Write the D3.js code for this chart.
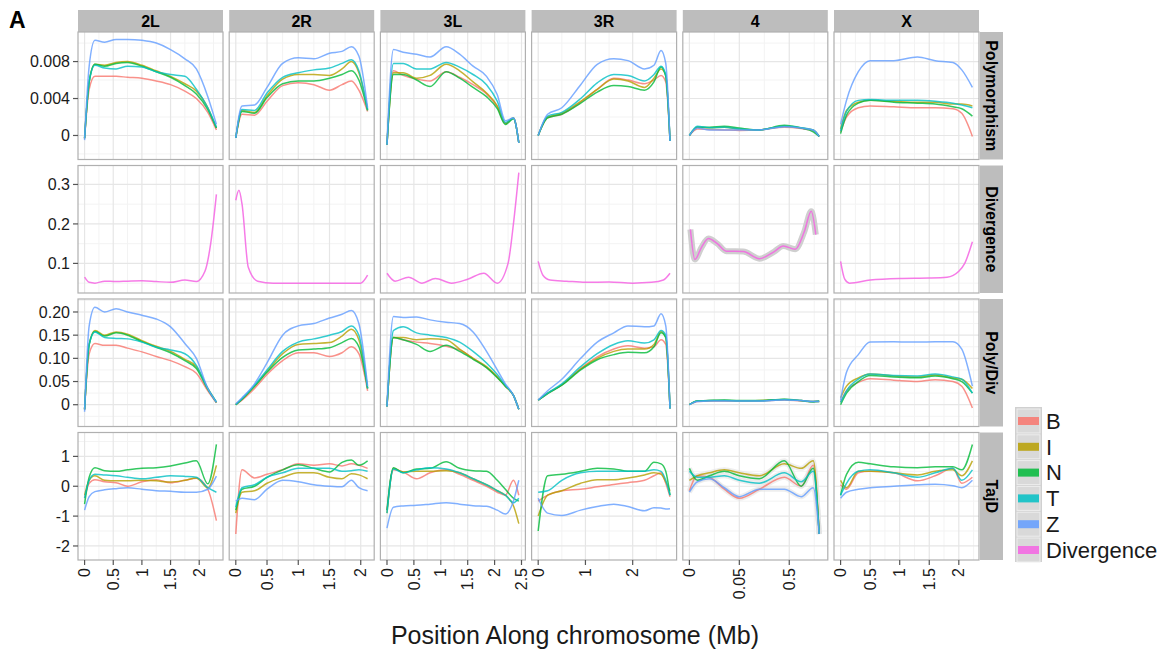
<!DOCTYPE html>
<html>
<head>
<meta charset="utf-8">
<script src="https://cdn.jsdelivr.net/npm/d3@7"></script>
<style>
  body { margin: 0; background: #fff; }
  svg { font-family: "Liberation Sans", Arial, sans-serif; }
</style>
</head>
<body>
<div id="chart"></div>
<script>
///////////////////// Data ////////////////////////
var chroms = ["2L", "2R", "3L", "3R", "4", "X"];
var chromLen = [2.3, 2.11, 2.45, 2.79, 0.132, 2.23];   // 10 Mb units, as in the axis
var pops = ["B", "I", "N", "T", "Z"];
var metrics = ["Polymorphism", "Divergence", "Poly/Div", "TajD"];

var xTicks = [[0, 0.5, 1, 1.5, 2], [0, 0.5, 1, 1.5, 2], [0, 0.5, 1, 1.5, 2, 2.5],
              [0, 1, 2], [0, 0.05, 0.1], [0, 0.5, 1, 1.5, 2]];
var xTickLabels = [["0", "0.5", "1", "1.5", "2"], ["0", "0.5", "1", "1.5", "2"],
                   ["0", "0.5", "1", "1.5", "2", "2.5"], ["0", "1", "2"],
                   ["0", "0.05", "0.5"], ["0", "0.5", "1", "1.5", "2"]];

var yTicks = [[0, 0.004, 0.008], [0.1, 0.2, 0.3], [0, 0.05, 0.10, 0.15, 0.20], [-2, -1, 0, 1]];
var yTickLabels = [["0", "0.004", "0.008"], ["0.1", "0.2", "0.3"],
                   ["0", "0.05", "0.10", "0.15", "0.20"], ["-2", "-1", "0", "1"]];
var yLimits = [[-0.0026, 0.0112], [0.025, 0.348], [-0.047, 0.228], [-2.47, 1.8]];

// --- 2L ---
var pos2L = [0, 0.08, 0.18, 0.35, 0.55, 0.75, 1.0, 1.25, 1.5, 1.75, 1.95, 2.15, 2.3];
var poly2L = {
  B: [-0.0003, 0.005, 0.0064, 0.0064, 0.0064, 0.0063, 0.0062, 0.0059, 0.0055, 0.0048, 0.004, 0.0025, 0.0006],
  I: [-0.0003, 0.0058, 0.0077, 0.0076, 0.0079, 0.008, 0.0076, 0.007, 0.0064, 0.0056, 0.0048, 0.003, 0.0008],
  N: [-0.0003, 0.0058, 0.0077, 0.0075, 0.0078, 0.0079, 0.0075, 0.0069, 0.0063, 0.0054, 0.0045, 0.0028, 0.0008],
  T: [-0.0003, 0.0058, 0.0076, 0.0073, 0.0072, 0.0075, 0.0074, 0.0069, 0.0066, 0.0064, 0.005, 0.003, 0.0009],
  Z: [-0.0005, 0.0075, 0.0103, 0.0101, 0.0104, 0.0104, 0.0103, 0.01, 0.0093, 0.0083, 0.0072, 0.0042, 0.0012]
};
var pd2L = {
  B: [-0.01, 0.11, 0.132, 0.128, 0.128, 0.122, 0.114, 0.104, 0.095, 0.082, 0.068, 0.03, 0.004],
  I: [-0.01, 0.13, 0.16, 0.15, 0.157, 0.152, 0.138, 0.126, 0.115, 0.098, 0.082, 0.035, 0.005],
  N: [-0.01, 0.13, 0.158, 0.148, 0.155, 0.15, 0.136, 0.124, 0.112, 0.095, 0.078, 0.033, 0.005],
  T: [-0.01, 0.13, 0.157, 0.145, 0.143, 0.142, 0.135, 0.124, 0.118, 0.11, 0.085, 0.035, 0.006],
  Z: [-0.015, 0.17, 0.21, 0.2, 0.207, 0.2, 0.193, 0.185, 0.168, 0.132, 0.1, 0.035, 0.005]
};
var tajd2L = {
  B: [-0.4, 0.1, 0.22, 0.15, 0.12, 0.0, 0.15, 0.22, 0.12, 0.2, 0.27, -0.1, -1.15],
  I: [-0.3, 0.2, 0.35, 0.2, 0.18, 0.18, 0.2, 0.18, 0.14, 0.2, 0.28, -0.05, 0.7],
  N: [-0.6, 0.3, 0.62, 0.52, 0.5, 0.55, 0.6, 0.62, 0.68, 0.78, 0.85, 0.08, 1.4],
  T: [-0.4, 0.2, 0.4, 0.38, 0.35, 0.3, 0.25, 0.3, 0.35, 0.33, 0.3, -0.05, -0.2],
  Z: [-0.8, -0.35, -0.18, -0.12, -0.08, -0.05, -0.1, -0.15, -0.17, -0.2, -0.2, -0.1, 0.34]
};
var divPos2L = [0, 0.08, 0.18, 0.35, 0.55, 0.75, 1.0, 1.25, 1.5, 1.75, 1.95, 2.1, 2.2, 2.3];
var div2L = [0.065, 0.052, 0.05, 0.055, 0.054, 0.055, 0.056, 0.054, 0.052, 0.058, 0.054, 0.08, 0.15, 0.275];

// --- 2R ---
var pos2R = [0, 0.1, 0.3, 0.5, 0.75, 1.0, 1.25, 1.5, 1.7, 1.85, 1.97, 2.11];
var poly2R = {
  B: [-0.00025, 0.0023, 0.0022, 0.0037, 0.0054, 0.0057, 0.0055, 0.0049, 0.0055, 0.0059, 0.0049, 0.0026],
  I: [-0.00025, 0.0027, 0.0025, 0.0043, 0.0061, 0.0066, 0.0066, 0.0065, 0.0072, 0.008, 0.0068, 0.0028],
  N: [-0.00025, 0.0026, 0.0024, 0.0041, 0.0056, 0.0059, 0.0059, 0.0062, 0.0066, 0.007, 0.006, 0.0027],
  T: [-0.00025, 0.0028, 0.0027, 0.0046, 0.0063, 0.0068, 0.0071, 0.0073, 0.0078, 0.0082, 0.007, 0.0028],
  Z: [-0.00025, 0.0032, 0.0033, 0.0052, 0.0078, 0.0084, 0.0083, 0.0089, 0.0091, 0.0096, 0.0086, 0.003]
};
var pd2R = {
  B: [0.0, 0.01, 0.035, 0.065, 0.095, 0.112, 0.112, 0.104, 0.112, 0.125, 0.11, 0.03],
  I: [0.0, 0.012, 0.04, 0.072, 0.11, 0.13, 0.132, 0.134, 0.148, 0.163, 0.14, 0.035],
  N: [0.0, 0.012, 0.04, 0.07, 0.102, 0.118, 0.12, 0.123, 0.134, 0.143, 0.125, 0.035],
  T: [0.0, 0.013, 0.042, 0.075, 0.115, 0.135, 0.142, 0.15, 0.158, 0.17, 0.15, 0.035],
  Z: [0.002, 0.015, 0.045, 0.09, 0.15, 0.17, 0.175, 0.187, 0.195, 0.203, 0.175, 0.04]
};
var tajd2R = {
  B: [-1.6, 0.55, 0.28, 0.4, 0.55, 0.75, 0.7, 0.75, 0.68, 0.75, 0.7, 0.6],
  I: [-0.9, -0.2, -0.15, 0.1, 0.3, 0.45, 0.45, 0.3, 0.25, 0.42, 0.38, 0.25],
  N: [-0.8, -0.1, 0.0, 0.3, 0.55, 0.72, 0.6, 0.48, 0.8, 0.88, 0.7, 0.85],
  T: [-0.7, -0.05, 0.05, 0.3, 0.45, 0.6, 0.6, 0.6, 0.5, 0.52, 0.55, 0.5],
  Z: [-0.5, -0.4, -0.45, -0.1, 0.2, 0.15, 0.05, 0.0, -0.02, 0.2, -0.05, -0.15]
};
var divPos2R = [0, 0.05, 0.1, 0.2, 0.35, 0.6, 1.0, 1.4, 1.8, 2.0, 2.11];
var div2R = [0.26, 0.285, 0.25, 0.09, 0.055, 0.05, 0.05, 0.05, 0.05, 0.05, 0.07];

// --- 3L ---
var pos3L = [0, 0.12, 0.3, 0.55, 0.8, 1.1, 1.35, 1.6, 1.85, 2.05, 2.2, 2.35, 2.45];
var poly3L = {
  B: [-0.001, 0.007, 0.0065, 0.0061, 0.0059, 0.0069, 0.0063, 0.0055, 0.0045, 0.0031, 0.0013, 0.0019, -0.0008],
  I: [-0.001, 0.0068, 0.0068, 0.0062, 0.0065, 0.0077, 0.007, 0.0058, 0.0046, 0.0032, 0.0013, 0.0019, -0.0008],
  N: [-0.001, 0.0066, 0.0066, 0.006, 0.0053, 0.0069, 0.0062, 0.0052, 0.0042, 0.0029, 0.0012, 0.0018, -0.0008],
  T: [-0.001, 0.0078, 0.0078, 0.0072, 0.0072, 0.0079, 0.0074, 0.0066, 0.0055, 0.0037, 0.0014, 0.0019, -0.0008],
  Z: [-0.001, 0.0093, 0.009, 0.0088, 0.0085, 0.0096, 0.0088, 0.0075, 0.0064, 0.0044, 0.0016, 0.0019, -0.0008]
};
var pd3L = {
  B: [-0.004, 0.145, 0.14, 0.135, 0.132, 0.126, 0.118, 0.1, 0.08, 0.06, 0.04, 0.02, -0.01],
  I: [-0.004, 0.145, 0.145, 0.14, 0.142, 0.14, 0.12, 0.1, 0.082, 0.06, 0.04, 0.02, -0.01],
  N: [-0.004, 0.145, 0.14, 0.13, 0.115, 0.128, 0.115, 0.098, 0.08, 0.058, 0.04, 0.02, -0.01],
  T: [-0.004, 0.16, 0.168, 0.155, 0.15, 0.145, 0.135, 0.115, 0.09, 0.065, 0.042, 0.02, -0.01],
  Z: [-0.004, 0.19, 0.188, 0.189, 0.183, 0.178, 0.175, 0.157, 0.115, 0.075, 0.045, 0.02, -0.01]
};
var tajd3L = {
  B: [-0.8, 0.55, 0.48, 0.25, 0.45, 0.55, 0.4, 0.2, 0.0, -0.2, -0.3, 0.2, -0.3],
  I: [-0.9, 0.6, 0.48, 0.5, 0.5, 0.52, 0.45, 0.25, 0.05, -0.15, -0.3, -0.65, -1.25],
  N: [-0.8, 0.62, 0.45, 0.58, 0.6, 0.82, 0.6, 0.52, 0.5, 0.2, -0.1, -0.4, -0.5],
  T: [-0.9, 0.58, 0.45, 0.55, 0.62, 0.58, 0.45, 0.25, 0.05, -0.15, -0.3, -0.55, -0.4],
  Z: [-1.4, -0.7, -0.66, -0.64, -0.6, -0.55, -0.6, -0.65, -0.67, -0.8, -0.93, -0.5, 0.2]
};
var divPos3L = [0, 0.15, 0.4, 0.65, 0.9, 1.2, 1.5, 1.8, 2.05, 2.25, 2.35, 2.45];
var div3L = [0.075, 0.055, 0.065, 0.05, 0.062, 0.05, 0.06, 0.075, 0.05, 0.1, 0.2, 0.33];

// --- 3R ---
var pos3R = [0, 0.2, 0.5, 0.9, 1.25, 1.6, 1.9, 2.25, 2.45, 2.6, 2.7, 2.79];
var poly3R = {
  B: [0.0, 0.0019, 0.0023, 0.0036, 0.005, 0.0062, 0.006, 0.0056, 0.006, 0.0065, 0.0058, -0.0006],
  I: [0.0, 0.002, 0.0024, 0.0037, 0.005, 0.0061, 0.0059, 0.0052, 0.0062, 0.0072, 0.0065, -0.0006],
  N: [0.0, 0.0019, 0.0023, 0.0035, 0.0047, 0.0054, 0.0053, 0.0049, 0.0058, 0.0074, 0.0064, -0.0006],
  T: [0.0, 0.0021, 0.0025, 0.004, 0.0057, 0.0066, 0.0065, 0.0059, 0.0066, 0.0075, 0.0066, -0.0006],
  Z: [0.0, 0.0023, 0.003, 0.0055, 0.0077, 0.0083, 0.0081, 0.0072, 0.0076, 0.0092, 0.0078, -0.0006]
};
var pd3R = {
  B: [0.01, 0.024, 0.043, 0.078, 0.103, 0.12, 0.127, 0.122, 0.125, 0.14, 0.13, -0.008],
  I: [0.01, 0.025, 0.043, 0.077, 0.1, 0.115, 0.12, 0.12, 0.13, 0.158, 0.145, -0.008],
  N: [0.01, 0.024, 0.042, 0.075, 0.097, 0.108, 0.113, 0.112, 0.125, 0.155, 0.145, -0.008],
  T: [0.01, 0.025, 0.045, 0.082, 0.11, 0.13, 0.138, 0.133, 0.14, 0.16, 0.15, -0.008],
  Z: [0.01, 0.03, 0.055, 0.1, 0.135, 0.155, 0.17, 0.168, 0.17, 0.196, 0.17, -0.008]
};
var tajd3R = {
  B: [-0.5, -0.3, -0.15, -0.1, -0.02, 0.06, 0.12, 0.2, 0.35, 0.45, 0.1, -0.35],
  I: [-1.0, -0.3, -0.15, 0.1, 0.22, 0.22, 0.28, 0.38, 0.45, 0.4, 0.15, -0.15],
  N: [-1.5, 0.35, 0.4, 0.5, 0.6, 0.58, 0.5, 0.5, 0.8, 0.75, 0.5, -0.3],
  T: [-0.2, -0.15, 0.2, 0.45, 0.5, 0.5, 0.5, 0.5, 0.55, 0.5, 0.2, -0.3],
  Z: [-0.4, -0.9, -0.98, -0.8, -0.68, -0.6, -0.68, -0.82, -0.72, -0.73, -0.76, -0.75]
};
var divPos3R = [0, 0.1, 0.25, 0.6, 1.0, 1.5, 2.0, 2.4, 2.65, 2.79];
var div3R = [0.105, 0.07, 0.058, 0.055, 0.052, 0.053, 0.05, 0.052, 0.058, 0.075];

// --- 4 ---
var pos4 = [0, 0.008, 0.02, 0.035, 0.05, 0.07, 0.095, 0.112, 0.124, 0.13];
var poly4 = {
  B: [0.0, 0.0007, 0.00065, 0.0006, 0.00055, 0.0006, 0.0009, 0.00075, 0.0005, -0.0001],
  I: [0.0, 0.0009, 0.00085, 0.0009, 0.0007, 0.0006, 0.001, 0.0008, 0.0006, -0.0001],
  N: [0.0, 0.0009, 0.0009, 0.001, 0.0008, 0.0006, 0.0011, 0.0008, 0.0004, -0.0001],
  T: [0.0, 0.001, 0.00085, 0.0009, 0.0007, 0.0006, 0.001, 0.00085, 0.0006, -0.0001],
  Z: [0.0, 0.0008, 0.0006, 0.0006, 0.0006, 0.0006, 0.00095, 0.0008, 0.0006, -0.0001]
};
var pd4 = {
  B: [0.0, 0.007, 0.008, 0.008, 0.008, 0.008, 0.01, 0.008, 0.007, 0.007],
  I: [0.0, 0.008, 0.009, 0.009, 0.008, 0.009, 0.011, 0.009, 0.007, 0.008],
  N: [0.0, 0.008, 0.009, 0.01, 0.009, 0.009, 0.012, 0.009, 0.006, 0.007],
  T: [0.0, 0.008, 0.009, 0.009, 0.008, 0.008, 0.011, 0.009, 0.007, 0.008],
  Z: [0.0, 0.007, 0.008, 0.008, 0.008, 0.008, 0.01, 0.009, 0.007, 0.007]
};
var tajd4 = {
  B: [-0.15, 0.35, 0.3, -0.1, -0.4, -0.1, 0.3, 0.0, 0.7, -1.6],
  I: [0.2, 0.35, 0.45, 0.55, 0.45, 0.35, 0.75, 0.6, 0.85, -1.6],
  N: [0.6, 0.2, 0.35, 0.5, 0.35, 0.25, 0.85, 0.0, 0.6, -1.6],
  T: [0.5, 0.3, 0.3, 0.35, 0.2, 0.1, 0.45, 0.15, 0.5, -1.6],
  Z: [-0.2, 0.15, 0.25, -0.05, -0.35, -0.1, -0.1, -0.35, -0.05, -1.6]
};
var divPos4 = [0.001, 0.0055, 0.012, 0.019, 0.028, 0.037, 0.054, 0.07, 0.085, 0.094, 0.106, 0.115, 0.122, 0.1266];
var div4 = [0.186, 0.11, 0.14, 0.163, 0.15, 0.131, 0.13, 0.112, 0.13, 0.144, 0.136, 0.18, 0.232, 0.173];

// --- X ---
var posX = [0, 0.1, 0.3, 0.5, 0.9, 1.3, 1.6, 1.9, 2.05, 2.23];
var polyX = {
  B: [0.0004, 0.002, 0.003, 0.0032, 0.0031, 0.003, 0.003, 0.0029, 0.0024, -0.0001],
  I: [0.0007, 0.0027, 0.0036, 0.0038, 0.0037, 0.0036, 0.0036, 0.0034, 0.0034, 0.0032],
  N: [0.0002, 0.0022, 0.0035, 0.0038, 0.0036, 0.0035, 0.0034, 0.0031, 0.0029, 0.0021],
  T: [0.0005, 0.0026, 0.0038, 0.0039, 0.0038, 0.0038, 0.0037, 0.0035, 0.0033, 0.003],
  Z: [0.0012, 0.0038, 0.0069, 0.0081, 0.0081, 0.0085, 0.0081, 0.0079, 0.0071, 0.0052]
};
var pdX = {
  B: [0.005, 0.03, 0.048, 0.056, 0.053, 0.05, 0.054, 0.05, 0.04, -0.007],
  I: [0.015, 0.04, 0.058, 0.066, 0.062, 0.06, 0.064, 0.058, 0.055, 0.035],
  N: [0.0, 0.025, 0.05, 0.063, 0.06, 0.058, 0.062, 0.056, 0.05, 0.025],
  T: [0.005, 0.03, 0.055, 0.066, 0.063, 0.062, 0.066, 0.06, 0.055, 0.025],
  Z: [0.01, 0.07, 0.108, 0.135, 0.136, 0.135, 0.136, 0.136, 0.12, 0.04]
};
var tajdX = {
  B: [0.05, -0.1, 0.45, 0.5, 0.45, 0.18, 0.35, 0.6, 0.1, 0.3],
  I: [0.2, -0.05, 0.5, 0.5, 0.45, 0.38, 0.5, 0.55, 0.35, 0.85],
  N: [-0.3, 0.4, 0.8, 0.75, 0.65, 0.62, 0.65, 0.65, 0.55, 1.4],
  T: [-0.3, 0.1, 0.5, 0.55, 0.45, 0.3, 0.45, 0.6, 0.2, 0.55],
  Z: [-0.4, -0.2, -0.1, -0.05, 0.0, 0.05, 0.07, 0.02, -0.05, 0.2]
};
var divPosX = [0, 0.07, 0.15, 0.5, 1.0, 1.5, 1.8, 2.0, 2.1, 2.23];
var divX = [0.105, 0.06, 0.05, 0.058, 0.062, 0.063, 0.065, 0.08, 0.1, 0.155];
//////////////////////////////////////////////////////////

// lookup tables built from the arrays above
var positions = [pos2L, pos2R, pos3L, pos3R, pos4, posX];
var polyData = [poly2L, poly2R, poly3L, poly3R, poly4, polyX];
var pdData = [pd2L, pd2R, pd3L, pd3R, pd4, pdX];
var tajdData = [tajd2L, tajd2R, tajd3L, tajd3R, tajd4, tajdX];
var divPositions = [divPos2L, divPos2R, divPos3L, divPos3R, divPos4, divPosX];
var divData = [div2L, div2R, div3L, div3R, div4, divX];

var colour = d3.scaleOrdinal()
    .domain(["B", "I", "N", "T", "Z", "Divergence"])
    .range(["#F8766D", "#B79F00", "#00BA38", "#00BFC4", "#619CFF", "#F564E3"]);

var width = 1160, height = 655;
var left0 = 78, colPitch = 151.2, panelW = 145;
var top0 = 32, rowPitch = 133.5, panelH = 127.5;

var svg = d3.select("#chart").append("svg")
    .attr("width", width).attr("height", height);

svg.append("text").attr("x", 9).attr("y", 28)
    .style("font-size", "23px").style("font-weight", "bold").text("A");

var line = function(xs, ys) {
  return d3.line()
    .x(function (d) { return xs(d[0]); })
    .y(function (d) { return ys(d[1]); })
    .curve(d3.curveMonotoneX);
};

var minorBetween = function(ticks, dom) {
  // half-way grid lines, ggplot style
  var step = ticks[1] - ticks[0];
  var out = [];
  for (var v = ticks[0] - step / 2; v <= dom[1]; v += step) {
    if (v >= dom[0]) out.push(v);
  }
  return out;
};

chroms.forEach(function (chrom, c) {
  var x0 = left0 + c * colPitch;
  var L = chromLen[c];
  var xs = d3.scaleLinear().domain([-0.05 * L, 1.05 * L]).range([x0, x0 + panelW]);

  // column strip
  svg.append("rect").attr("x", x0).attr("y", 10).attr("width", panelW).attr("height", top0 - 10)
      .attr("fill", "#bdbdbd");
  svg.append("text").attr("x", x0 + panelW / 2).attr("y", 27)
      .attr("text-anchor", "middle").style("font-size", "16px").style("font-weight", "bold")
      .text(chrom);

  metrics.forEach(function (metric, r) {
    var y0 = top0 + r * rowPitch;
    var ys = d3.scaleLinear().domain(yLimits[r]).range([y0 + panelH, y0]);
    var g = svg.append("g");

    g.append("rect").attr("x", x0).attr("y", y0).attr("width", panelW).attr("height", panelH)
        .attr("fill", "#fff");

    // minor grid
    var xMinor = minorBetween(xTicks[c], xs.domain());
    var yMinor = minorBetween(yTicks[r], ys.domain());
    g.selectAll(".xm").data(xMinor).enter().append("line")
        .attr("x1", xs).attr("x2", xs).attr("y1", y0).attr("y2", y0 + panelH)
        .attr("stroke", "#f3f3f3").attr("stroke-width", 1);
    g.selectAll(".ym").data(yMinor).enter().append("line")
        .attr("x1", x0).attr("x2", x0 + panelW).attr("y1", ys).attr("y2", ys)
        .attr("stroke", "#f3f3f3").attr("stroke-width", 1);
    // major grid
    g.selectAll(".xg").data(xTicks[c]).enter().append("line")
        .attr("x1", xs).attr("x2", xs).attr("y1", y0).attr("y2", y0 + panelH)
        .attr("stroke", "#e6e6e6").attr("stroke-width", 1.2);
    g.selectAll(".yg").data(yTicks[r]).enter().append("line")
        .attr("x1", x0).attr("x2", x0 + panelW).attr("y1", ys).attr("y2", ys)
        .attr("stroke", "#e6e6e6").attr("stroke-width", 1.2);

    var clipId = "clip" + c + "_" + r;
    g.append("clipPath").attr("id", clipId).append("rect")
        .attr("x", x0).attr("y", y0).attr("width", panelW).attr("height", panelH);
    var lines = g.append("g").attr("clip-path", "url(#" + clipId + ")");
    var path = line(xs, ys);

    if (metric === "Divergence") {
      var pts = d3.zip(divPositions[c], divData[c]);
      if (chrom === "4") {
        lines.append("path").attr("d", path(pts)).attr("fill", "none")
            .attr("stroke", "#cfcfcf").attr("stroke-width", 6).attr("stroke-linejoin", "round");
      }
      lines.append("path").attr("d", path(pts)).attr("fill", "none")
          .attr("stroke", colour("Divergence")).attr("stroke-width", 1.5).attr("opacity", 0.85);
    } else {
      var src = metric === "Polymorphism" ? polyData[c] : (metric === "Poly/Div" ? pdData[c] : tajdData[c]);
      if (chrom === "4" && metric === "TajD") {
        pops.forEach(function (p) {
          lines.append("path").attr("d", path(d3.zip(positions[c], src[p]))).attr("fill", "none")
              .attr("stroke", "#e2e2e2").attr("stroke-width", 5).attr("opacity", 0.6);
        });
      }
      pops.forEach(function (p) {
        lines.append("path").attr("d", path(d3.zip(positions[c], src[p]))).attr("fill", "none")
            .attr("stroke", colour(p)).attr("stroke-width", 1.5).attr("opacity", 0.8);
      });
    }

    g.append("rect").attr("x", x0).attr("y", y0).attr("width", panelW).attr("height", panelH)
        .attr("fill", "none").attr("stroke", "#b0b0b0").attr("stroke-width", 1.2);

    // y axis on first column
    if (c === 0) {
      var ya = svg.append("g");
      ya.selectAll("line").data(yTicks[r]).enter().append("line")
          .attr("x1", x0 - 5).attr("x2", x0).attr("y1", ys).attr("y2", ys)
          .attr("stroke", "#555").attr("stroke-width", 1.2);
      ya.selectAll("text").data(yTicks[r]).enter().append("text")
          .attr("x", x0 - 8).attr("y", ys).attr("dy", "0.35em")
          .attr("text-anchor", "end").style("font-size", "16px").attr("fill", "#1a1a1a")
          .text(function (d, i) { return yTickLabels[r][i]; });
    }

    // row strip on last column
    if (c === chroms.length - 1) {
      var sx = x0 + panelW + 1;
      svg.append("rect").attr("x", sx).attr("y", y0).attr("width", 23).attr("height", panelH)
          .attr("fill", "#bdbdbd");
      svg.append("text")
          .attr("transform", "translate(" + (sx + 6) + "," + (y0 + panelH / 2) + ") rotate(90)")
          .attr("text-anchor", "middle").style("font-size", "16px").style("font-weight", "bold")
          .text(metric);
    }

    // x axis under bottom row
    if (r === metrics.length - 1) {
      var xa = svg.append("g");
      xa.selectAll("line").data(xTicks[c]).enter().append("line")
          .attr("x1", xs).attr("x2", xs).attr("y1", y0 + panelH).attr("y2", y0 + panelH + 5)
          .attr("stroke", "#555").attr("stroke-width", 1.2);
      xa.selectAll("text").data(xTicks[c]).enter().append("text")
          .attr("transform", function (d) { return "translate(" + xs(d) + "," + (y0 + panelH + 8) + ") rotate(-90)"; })
          .attr("dy", "0.35em").attr("text-anchor", "end")
          .style("font-size", "16px").attr("fill", "#1a1a1a")
          .text(function (d, i) { return xTickLabels[c][i]; });
    }
  });
});

svg.append("text").attr("x", 575).attr("y", 644).attr("text-anchor", "middle")
    .style("font-size", "25px").attr("fill", "#1a1a1a")
    .text("Position Along chromosome (Mb)");

// legend
var legendKeys = ["B", "I", "N", "T", "Z", "Divergence"];
var lg = svg.append("g").attr("transform", "translate(1015,407)");
lg.append("rect").attr("width", 27).attr("height", 155).attr("fill", "#d0d0d0");
legendKeys.forEach(function (k, i) {
  var ky = 2 + i * 25.8;
  lg.append("rect").attr("x", 2).attr("y", ky).attr("width", 23).attr("height", 24)
      .attr("fill", "#d9d9d9").attr("stroke", "#eeeeee").attr("stroke-width", 1);
  lg.append("rect").attr("x", 3).attr("y", ky + 8).attr("width", 21).attr("height", 8)
      .attr("fill", colour(k)).attr("opacity", 0.85);
  lg.append("text").attr("x", 31).attr("y", ky + 12).attr("dy", "0.35em")
      .style("font-size", "22px").attr("fill", "#1a1a1a").text(k);
});
</script>
</body>
</html>
